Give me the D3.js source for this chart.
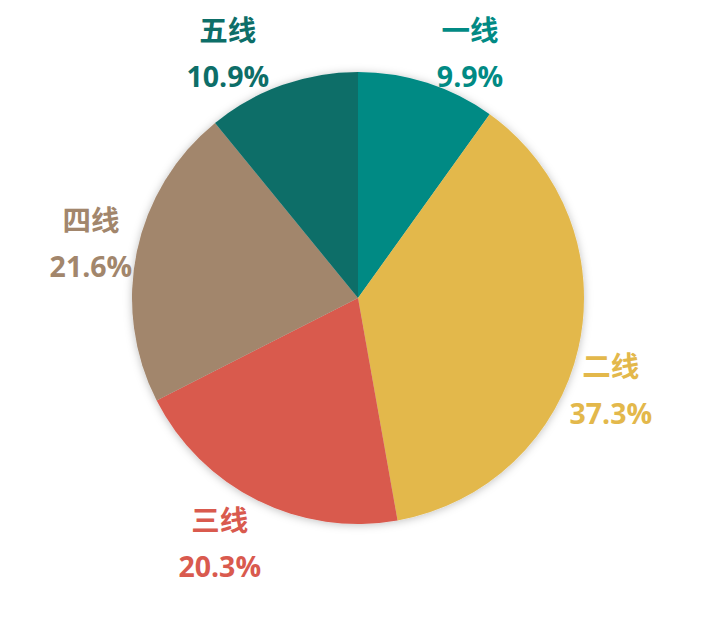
<!DOCTYPE html>
<html><head><meta charset="utf-8">
<script src="https://cdn.jsdelivr.net/npm/d3@7"></script>
<style>html,body{margin:0;padding:0;background:#fff;}</style>
</head><body>
<svg id="chart" width="703" height="619"></svg>
<script>
const categories = ["一线", "二线", "三线", "四线", "五线"];
const values = [9.9, 37.3, 20.3, 21.6, 10.9];
const colors = ["#018A84", "#E3B84B", "#D95A4E", "#A2866C", "#0D6E68"];

// layout of the labels (angle nudge in degrees from slice middle, distance from centre)
const labelShift = [6.8, 7.2, 2.9, -0.4, -8.4];
const labelRadius = [269, 269, 282, 272.5, 277];

const W = 703, H = 619, cx = 358, cy = 298, R = 226;
const svg = d3.select("#chart");
const defs = svg.append("defs");
const f = defs.append("filter").attr("id", "sh").attr("x", "-20%").attr("y", "-20%").attr("width", "140%").attr("height", "140%");
f.append("feDropShadow").attr("dx", 0).attr("dy", 1).attr("stdDeviation", 4).attr("flood-color", "#000").attr("flood-opacity", 0.25);

const data = categories.map((c, i) => ({name: c, value: values[i], color: colors[i]}));
const pie = d3.pie().value(d => d.value).sort(null);
const arcs = pie(data);
const arc = d3.arc().innerRadius(0).outerRadius(R);

const g = svg.append("g").attr("transform", `translate(${cx},${cy})`);
g.append("g").attr("filter", "url(#sh)").selectAll("path").data(arcs).join("path")
  .attr("d", arc).attr("fill", d => d.data.color);

const rad = Math.PI / 180;
const fs = 28.5;
const lg = g.selectAll("g.lab").data(arcs).join("g").attr("class", "lab")
  .attr("transform", (d, i) => {
    const a = (d.startAngle + d.endAngle) / 2 + labelShift[i] * rad;
    const r = labelRadius[i];
    return `translate(${r * Math.sin(a)},${-r * Math.cos(a)})`;
  });
lg.append("text").attr("text-anchor", "middle").attr("y", -12.7)
  .style("font", `bold ${fs}px 'Noto Sans CJK SC', 'Open Sans', sans-serif`)
  .attr("fill", d => d.data.color).text(d => d.data.name);
lg.append("text").attr("text-anchor", "middle").attr("y", 33.7)
  .style("font", `bold ${fs}px 'Open Sans', 'Noto Sans CJK SC', sans-serif`)
  .attr("fill", d => d.data.color).text(d => d3.format(".1f")(d.data.value) + "%");
</script>
</body></html>
